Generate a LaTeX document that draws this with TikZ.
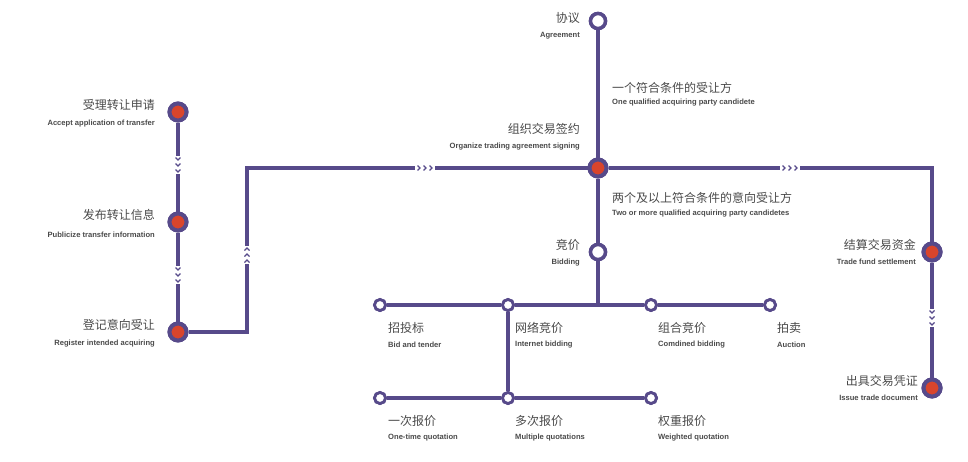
\documentclass[tikz,border=0pt]{standalone}
\usepackage{fontspec}
\setmainfont{Liberation Sans}
\newfontfamily\cjk{Noto Sans CJK SC}
\begin{document}
\begin{tikzpicture}[x=1pt,y=-1pt,
  lane/.style={draw=pline,line width=3.6pt},
  bigdot/.style={circle,draw=pline,fill=rdot,line width=4pt,minimum size=17pt,inner sep=0pt},
  ring/.style={circle,draw=pline,fill=white,line width=3.5pt,minimum size=15pt,inner sep=0pt},
  smallring/.style={circle,draw=pline,fill=white,line width=2.8pt,minimum size=11pt,inner sep=0pt},
  zh/.style={font=\cjk\fontsize{12}{14}\selectfont,text=tgray,inner sep=0pt},
  en/.style={font=\bfseries\fontsize{7.6}{9}\selectfont,text=tgray,inner sep=0pt},
  chev/.style={draw=pline,line width=1.3pt}]
\definecolor{pline}{HTML}{574A8A}
\definecolor{rdot}{HTML}{D9452C}
\definecolor{tgray}{HTML}{4A4A4A}
\useasboundingbox (0,0) rectangle (968,461);
\coordinate (c1) at (247,332);
\coordinate (c2) at (247,168);
\coordinate (b0) at (598,305);
\coordinate (r1) at (932,168);
\node[bigdot] (accept) at (178,112) {};
\node[bigdot] (publish) at (178,222) {};
\node[bigdot] (register) at (178,332) {};
\node[ring] (agree) at (598,21) {};
\node[bigdot] (org) at (598,168) {};
\node[ring] (bid) at (598,252) {};
\node[bigdot] (settle) at (932,252) {};
\node[bigdot] (issue) at (932,388) {};
\node[smallring] (s1) at (380,305) {};
\node[smallring] (s2) at (508,305) {};
\node[smallring] (s3) at (651,305) {};
\node[smallring] (s4) at (770,305) {};
\node[smallring] (t1) at (380,398) {};
\node[smallring] (t2) at (508,398) {};
\node[smallring] (t3) at (651,398) {};
\draw[lane] (accept) -- (publish);
\draw[lane] (publish) -- (register);
\draw[lane] (register) -- (c1) -- (c2) -- (org);
\draw[lane] (agree) -- (org);
\draw[lane] (org) -- (bid);
\draw[lane] (org) -- (r1) -- (settle);
\draw[lane] (settle) -- (issue);
\draw[lane] (bid) -- (b0);
\draw[lane] (s1) -- (s2) -- (s3) -- (s4);
\draw[lane] (s2) -- (t2);
\draw[lane] (t1) -- (t2) -- (t3);
\foreach \p in {{178,112},{178,222},{178,332},{598,168},{932,252},{932,388}}
  \node[bigdot] at (\p) {};
\foreach \p in {{598,21},{598,252}} \node[ring] at (\p) {};
\foreach \p in {{380,305},{508,305},{651,305},{770,305},{380,398},{508,398},{651,398}} \node[smallring] at (\p) {};
\foreach \y in {165,275} {
  \fill[white] (174,\y-9) rectangle (182,\y+9);
  \foreach \d in {-6,0,6} \draw[chev] (175.5,\y+\d-1.5) -- (178,\y+\d+1) -- (180.5,\y+\d-1.5);
}
\fill[white] (928,309) rectangle (936,327);
\foreach \d in {-6,0,6} \draw[chev] (929.5,318+\d-1.5) -- (932,318+\d+1) -- (934.5,318+\d-1.5);
\fill[white] (243,246) rectangle (251,264);
\foreach \d in {-6,0,6} \draw[chev] (244.5,255+\d+1.5) -- (247,255+\d-1) -- (249.5,255+\d+1.5);
\foreach \x in {425,790} {
  \fill[white] (\x-10,164) rectangle (\x+10,172);
  \foreach \d in {-6,0,6} \draw[chev] (\x+\d-1.5,165.5) -- (\x+\d+1,168) -- (\x+\d-1.5,170.5);
}
\node[zh,anchor=east] (l1) at (155,105) {受理转让申请};
\node[en,anchor=east] (e1) at (155,124) {Accept application of transfer};
\node[zh,anchor=east] (l2) at (155,215) {发布转让信息};
\node[en,anchor=east] (e2) at (155,235) {Publicize transfer information};
\node[zh,anchor=east] (l3) at (155,325) {登记意向受让};
\node[en,anchor=east] (e3) at (155,344) {Register intended acquiring};
\node[zh,anchor=east] (l4) at (580,18) {协议};
\node[en,anchor=east] (e4) at (580,36) {Agreement};
\node[zh,anchor=east] (l5) at (580,129) {组织交易签约};
\node[en,anchor=east] (e5) at (580,147) {Organize trading agreement signing};
\node[zh,anchor=west] (l6) at (612,88) {一个符合条件的受让方};
\node[en,anchor=west] (e6) at (612,103) {One qualified acquiring party candidete};
\node[zh,anchor=west] (l7) at (612,198) {两个及以上符合条件的意向受让方};
\node[en,anchor=west] (e7) at (612,214) {Two or more qualified acquiring party candidetes};
\node[zh,anchor=east] (l8) at (580,245) {竞价};
\node[en,anchor=east] (e8) at (580,263) {Bidding};
\node[zh,anchor=east] (l9) at (916,245) {结算交易资金};
\node[en,anchor=east] (e9) at (916,262) {Trade fund settlement};
\node[zh,anchor=east] (l10) at (918,381) {出具交易凭证};
\node[en,anchor=east] (e10) at (918,398) {Issue trade document};
\foreach \x/\z/\e in {388/招投标/Bid and tender,515/网络竞价/Internet bidding,658/组合竞价/Comdined bidding,777/拍卖/Auction} {
  \node[zh,anchor=west] at (\x,328) {\z};
  \node[en,anchor=west] at (\x,345) {\e};
}
\foreach \x/\z/\e in {388/一次报价/One-time quotation,515/多次报价/Multiple quotations,658/权重报价/Weighted quotation} {
  \node[zh,anchor=west] at (\x,421) {\z};
  \node[en,anchor=west] at (\x,438) {\e};
}
\end{tikzpicture}
\end{document}
